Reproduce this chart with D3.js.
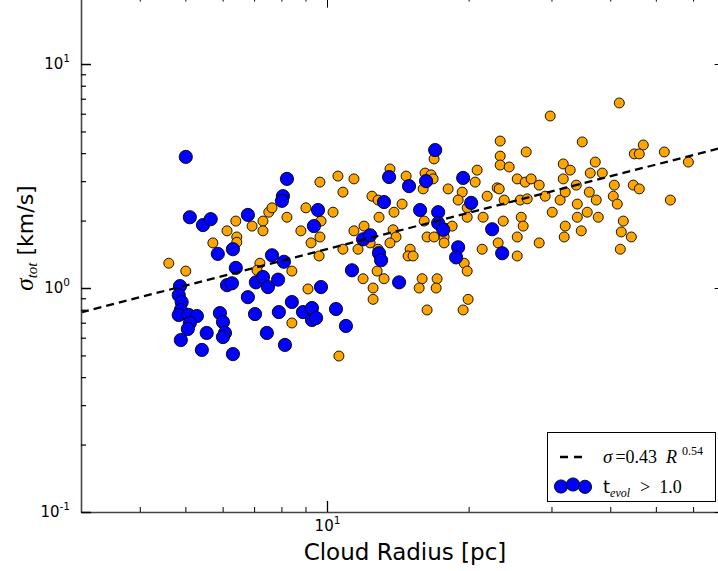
<!DOCTYPE html>
<html><head><meta charset="utf-8">
<script src="https://cdn.jsdelivr.net/npm/d3@7"></script>
<style>body{margin:0;background:#fff}svg{display:block}</style>
</head><body><svg id="c" width="718" height="571"></svg>
<script>
// ---- data ----
const orangeR = [4.61,5.01,5.72,6.13,6.40,6.43,6.43,6.93,7.31,7.31,7.52,7.64,8.22,9.02,9.66,8.80,9.25,9.66,7.20,7.10,8.42,9.11,8.42,9.62,
16.89,13.61,14.73,16.16,16.64,16.81,16.01,18.09,19.38,19.00,10.55,11.41,10.81,12.46,12.84,14.44,13.88,10.30,12.90,9.71,11.99,11.41,13.82,16.09,17.83,18.45,19.86,19.86,
10.81,11.64,12.35,14.02,13.61,12.84,12.84,15.02,14.87,15.24,16.32,16.89,17.74,17.74,12.78,13.22,11.93,12.53,12.53,15.93,15.70,17.14,17.06,16.32,19.47,19.95,19.57,19.86,10.60,
41.81,29.81,23.34,34.88,26.51,23.34,23.34,24.39,20.85,31.78,32.88,37.17,36.27,38.47,20.65,25.37,26.38,27.16,28.25,31.78,33.87,40.80,23.00,23.23,21.90,23.80,25.74,26.64,29.09,31.30,32.09,34.04,36.10,37.35,40.60,41.40,
21.47,23.69,25.87,26.12,30.11,32.09,34.04,35.74,37.72,34.71,23.11,21.37,25.37,25.37,28.25,31.93,42.22,42.02,47.02,45.00,46.11,52.12,58.63,44.78,46.11,53.68,42.64,44.35];
const orangeSigma = [1.29,1.19,1.59,1.80,1.99,1.69,1.60,1.89,1.99,1.80,2.18,2.28,2.07,2.28,2.97,1.80,1.59,1.69,1.29,1.20,1.19,0.99,0.698,1.39,
3.77,3.40,3.16,3.26,3.20,3.07,2.77,2.77,2.68,2.47,3.16,3.07,2.68,2.57,2.47,2.37,2.18,2.18,2.07,1.99,1.89,1.80,1.82,1.99,1.85,1.89,2.28,2.07,
1.49,1.49,1.59,1.69,1.59,1.49,1.42,1.49,1.39,1.39,1.69,1.69,1.69,1.59,1.19,1.10,1.10,1.00,0.89,1.10,1.00,1.10,1.00,0.798,0.798,0.89,1.29,1.19,0.497,
6.70,5.86,4.53,4.49,4.05,3.88,3.54,3.47,3.36,3.58,3.36,3.65,3.26,3.26,2.97,3.07,2.97,3.07,2.88,3.07,2.88,2.88,2.80,2.77,2.57,2.47,2.47,2.50,2.57,2.47,2.68,2.37,2.68,2.47,2.57,2.37,
2.07,1.99,2.07,1.89,2.18,1.89,2.07,2.18,2.07,1.80,1.59,1.49,1.69,1.39,1.59,1.69,1.78,1.49,4.35,3.97,3.97,4.05,3.65,2.88,2.77,2.47,1.99,1.69];
const blueR = [5.01,8.22,8.06,8.02,5.11,5.45,5.66,6.79,9.57,9.38,5.86,6.31,7.64,8.10,6.40,6.13,6.28,7.06,7.31,7.49,7.87,9.71,4.87,4.84,4.91,4.89,4.84,5.08,5.29,5.11,5.06,4.89,5.92,6.01,6.07,6.01,5.55,5.42,6.31,6.79,7.03,7.45,8.14,7.90,8.42,8.89,9.29,9.29,9.48,10.45,10.97,11.30,11.93,12.35,12.90,13.03,13.22,13.55,14.23,14.94,15.77,16.24,16.98,17.23,17.23,17.66,19.00,18.81,19.47,20.25,22.44,23.57];
const blueSigma = [3.85,3.07,2.57,2.45,2.07,1.91,2.03,2.12,2.23,1.89,1.42,1.49,1.40,1.31,1.23,1.03,1.05,1.06,1.12,1.01,1.09,1.01,1.02,0.93,0.866,0.798,0.758,0.758,0.750,0.698,0.656,0.586,0.773,0.705,0.630,0.604,0.630,0.529,0.507,0.91,0.765,0.630,0.557,0.781,0.866,0.781,0.814,0.720,0.735,0.806,0.677,1.20,1.65,1.72,1.43,1.33,2.42,3.13,1.06,2.85,2.23,3.00,4.13,2.18,1.95,1.82,1.52,1.37,3.10,2.40,1.83,1.43];
const fitCoef = 0.43, fitExp = 0.54;
const xDomain = [3, 70];
const yDomain = [0.1, 20];
const xMajorTicks = [10];
const xMinorTicks = [4,5,6,7,8,9,20,30,40,50,60];
const yMajorTicks = [0.1, 1, 10];
const yMinorTicks = [0.2,0.3,0.4,0.5,0.6,0.7,0.8,0.9,2,3,4,5,6,7,8,9];
const xTitle = "Cloud Radius [pc]";

// ---- layout ----
const svg = d3.select("#c");
const L = 81, R = 724.6, T = -3.4, B = 512;
const x = d3.scaleLog().domain(xDomain).range([L, R]);
const y = d3.scaleLog().domain(yDomain).range([B, T]);
const SANS = "DejaVu Sans, sans-serif";
const SERIF = "Liberation Serif, DejaVu Serif, serif";

svg.append("rect").attr("width",718).attr("height",571).attr("fill","#fff");

const orange = orangeR.map((r,i)=>({r, s: orangeSigma[i]}));
const blue = blueR.map((r,i)=>({r, s: blueSigma[i]}));

const plot = svg.append("g");
plot.selectAll("circle.o").data(orange).join("circle").attr("class","o")
  .attr("cx", d=>x(d.r)).attr("cy", d=>y(d.s)).attr("r",5)
  .attr("fill","#ffa500").attr("stroke","#000").attr("stroke-width",0.9);
plot.selectAll("circle.b").data(blue).join("circle").attr("class","b")
  .attr("cx", d=>x(d.r)).attr("cy", d=>y(d.s)).attr("r",6.6)
  .attr("fill","#0000ff").attr("stroke","#000").attr("stroke-width",0.9);

// fit line
const fitPts = xDomain.map(r => ({r, s: fitCoef*Math.pow(r, fitExp)}));
plot.append("path").datum(fitPts)
  .attr("d", d3.line().x(d=>x(d.r)).y(d=>y(d.s)))
  .attr("fill","none").attr("stroke","#000").attr("stroke-width",2.3)
  .attr("stroke-dasharray","8,5");

// ---- axes ----
function styleAxis(g){
  g.select(".domain").attr("stroke","#444").attr("stroke-width",1.6);
  g.selectAll(".tick line").attr("stroke","#000");
}
function sup(sel){
  sel.selectAll(".tick text").each(function(d){
    const t = d3.select(this); const e = Math.round(Math.log10(d));
    t.text(null).attr("font-family",SANS).attr("fill","#000");
    t.append("tspan").attr("font-size",15).text("10");
    t.append("tspan").attr("font-size",10.5).attr("dy",-7).text(e<0 ? "-"+Math.abs(e) : String(e));
  });
}
// bottom
const gb = svg.append("g").attr("transform",`translate(0,${B})`);
gb.call(d3.axisBottom(x).tickValues(xMajorTicks).tickSize(-11).tickSizeOuter(0).tickPadding(10).tickFormat(d=>d));
gb.selectAll(".tick line").attr("stroke-width",1.3);
sup(gb); styleAxis(gb);
gb.selectAll(".tick text").attr("dy","0.9em");
const gbm = svg.append("g").attr("transform",`translate(0,${B})`);
gbm.call(d3.axisBottom(x).tickValues(xMinorTicks).tickSize(-5).tickSizeOuter(0).tickFormat(""));
gbm.select(".domain").remove(); gbm.selectAll(".tick line").attr("stroke","#000");
// top
const gt = svg.append("g").attr("transform",`translate(0,${T})`);
gt.call(d3.axisTop(x).tickValues(xMajorTicks).tickSize(-11).tickSizeOuter(0).tickFormat(""));
styleAxis(gt);
const gtm = svg.append("g").attr("transform",`translate(0,${T})`);
gtm.call(d3.axisTop(x).tickValues(xMinorTicks).tickSize(-5).tickSizeOuter(0).tickFormat(""));
gtm.select(".domain").remove();
// left
const gl = svg.append("g").attr("transform",`translate(${L},0)`);
gl.call(d3.axisLeft(y).tickValues(yMajorTicks).tickSize(-10).tickSizeOuter(0).tickPadding(11).tickFormat(d=>d));
gl.selectAll(".tick line").attr("stroke-width",1.5);
sup(gl); styleAxis(gl);
gl.selectAll(".tick text").attr("dy","0.45em");
const glm = svg.append("g").attr("transform",`translate(${L},0)`);
glm.call(d3.axisLeft(y).tickValues(yMinorTicks).tickSize(-5).tickSizeOuter(0).tickFormat(""));
glm.select(".domain").remove(); glm.selectAll(".tick line").attr("stroke","#000").attr("stroke-width",1.2);
// right
const gr = svg.append("g").attr("transform",`translate(${R},0)`);
gr.call(d3.axisRight(y).tickValues(yMajorTicks).tickSize(-10).tickSizeOuter(0).tickFormat(""));
styleAxis(gr);
const grm = svg.append("g").attr("transform",`translate(${R},0)`);
grm.call(d3.axisRight(y).tickValues(yMinorTicks).tickSize(-5).tickSizeOuter(0).tickFormat(""));
grm.select(".domain").remove(); grm.selectAll(".tick line").attr("stroke","#000");

// ---- titles ----
svg.append("text").attr("x",405).attr("y",560).attr("text-anchor","middle")
  .attr("font-family",SANS).attr("font-size",23).text(xTitle);
const yt = svg.append("text").attr("transform","translate(33,238) rotate(-90)")
  .attr("text-anchor","middle").attr("font-size",22).attr("font-family",SANS);
yt.append("tspan").attr("font-family",SERIF).attr("font-style","italic").attr("font-size",25).text("σ");
yt.append("tspan").attr("font-family",SERIF).attr("font-style","italic").attr("font-size",15).attr("dy",4).text("tot");
yt.append("tspan").attr("dy",-4).text(" [km/s]");

// ---- legend ----
const lg = svg.append("g");
lg.append("rect").attr("x",547.5).attr("y",432.5).attr("width",168).attr("height",69)
  .attr("fill","#fff").attr("stroke","#000").attr("stroke-width",1);
lg.append("line").attr("x1",560).attr("x2",583).attr("y1",457).attr("y2",457)
  .attr("stroke","#000").attr("stroke-width",2.3).attr("stroke-dasharray","8,6");
const t1 = lg.append("text").attr("x",603).attr("y",463).attr("font-family",SERIF).attr("font-size",18);
t1.append("tspan").attr("font-style","italic").attr("font-size",19).text("σ");
t1.append("tspan").attr("dx",3).text("=0.43");
t1.append("tspan").attr("dx",9).attr("font-style","italic").text("R");
t1.append("tspan").attr("font-size",12).attr("dy",-8).attr("dx",5).text("0.54");
const legendMarkers = [{dx:0,dy:0.5},{dx:12,dy:-1.5},{dx:24,dy:0.8}];
lg.selectAll("circle.lm").data(legendMarkers).join("circle").attr("class","lm")
  .attr("cx",d=>561+d.dx).attr("cy",d=>486+d.dy).attr("r",6.6)
  .attr("fill","#0000ff").attr("stroke","#000").attr("stroke-width",0.9);
const t2 = lg.append("text").attr("x",603).attr("y",493).attr("font-size",18);
t2.append("tspan").attr("font-family",SANS).text("t");
t2.append("tspan").attr("font-family",SERIF).attr("font-style","italic").attr("font-size",12).attr("dy",4).text("evol");
t2.append("tspan").attr("font-family",SERIF).attr("dy",-4).attr("dx",10).text(">");
t2.append("tspan").attr("font-family",SERIF).attr("dx",9).text("1.0");
</script></body></html>
